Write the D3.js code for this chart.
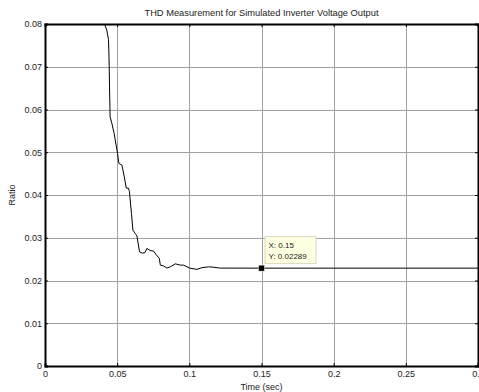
<!DOCTYPE html>
<html><head><meta charset="utf-8">
<script src="https://cdn.jsdelivr.net/npm/d3@7"></script>
<style>
html,body{margin:0;padding:0;background:#fff;overflow:hidden}
text{font-family:"Liberation Sans",Arial,sans-serif;}
</style></head>
<body>
<svg id="c" width="479" height="392"></svg>
<script>
const title = "THD Measurement for Simulated Inverter Voltage Output";
const xLabel = "Time (sec)";
const yLabel = "Ratio";
const xTicks = [0, 0.05, 0.1, 0.15, 0.2, 0.25, 0.3];
const yTicks = [0, 0.01, 0.02, 0.03, 0.04, 0.05, 0.06, 0.07, 0.08];
const timeValues = [0.0400,0.0412,0.0428,0.0440,0.0444,0.0447,0.0451,0.0463,0.0479,0.0502,0.0512,0.0533,0.0549,0.0563,0.0578,0.0585,0.0599,0.0609,0.0625,0.0637,0.0655,0.0674,0.0692,0.0706,0.0729,0.0752,0.0771,0.0792,0.0799,0.0822,0.0845,0.0868,0.0903,0.0938,0.0960,0.1002,0.1053,0.1088,0.1134,0.1169,0.1215,0.1262,0.1500,0.2000,0.2500,0.3000];
const thdValues = [0.0850,0.0800,0.0786,0.0763,0.0716,0.0653,0.0583,0.0568,0.0544,0.0498,0.0474,0.0470,0.0443,0.0416,0.0416,0.0408,0.0357,0.0318,0.0310,0.0304,0.0267,0.0264,0.0265,0.0275,0.0270,0.0269,0.0260,0.0252,0.0236,0.0234,0.0229,0.0232,0.0239,0.0236,0.0236,0.0229,0.0226,0.0230,0.0232,0.0231,0.0229,0.0229,0.02289,0.02289,0.02289,0.02289];
const markerX = 0.15, markerY = 0.02289;

const svg = d3.select("#c");
const L = 45, R = 478, T = 24, B = 366;
const x = d3.scaleLinear().domain([0, 0.3]).range([L, R]);
const y = d3.scaleLinear().domain([0, 0.08]).range([B, T]);

svg.append("rect").attr("x", L).attr("y", T).attr("width", R - L).attr("height", B - T).attr("fill", "#fff");

// grid
const grid = svg.append("g").attr("stroke", "#a0a0a0").attr("stroke-width", 1);
xTicks.slice(1, -1).forEach(t => grid.append("line").attr("x1", Math.round(x(t)) + 0.5).attr("x2", Math.round(x(t)) + 0.5).attr("y1", T).attr("y2", B));
yTicks.slice(1, -1).forEach(t => grid.append("line").attr("y1", Math.round(y(t)) + 0.5).attr("y2", Math.round(y(t)) + 0.5).attr("x1", L).attr("x2", R));

// axes with inward ticks
const fmt = d => d === 0 ? "0" : String(+d.toFixed(3));
const xAx = svg.append("g").attr("transform", `translate(0,${B})`)
  .call(d3.axisBottom(x).tickValues(xTicks).tickSize(-3).tickPadding(5).tickFormat(fmt));
const xAxTop = svg.append("g").attr("transform", `translate(0,${T})`)
  .call(d3.axisTop(x).tickValues(xTicks).tickSize(-3).tickFormat(""));
const yAx = svg.append("g").attr("transform", `translate(${L},0)`)
  .call(d3.axisLeft(y).tickValues(yTicks).tickSize(-3).tickPadding(3).tickFormat(fmt));
const yAxR = svg.append("g").attr("transform", `translate(${R},0)`)
  .call(d3.axisRight(y).tickValues(yTicks).tickSize(-3).tickFormat(""));
[xAx, xAxTop, yAx, yAxR].forEach(g => {
  g.select(".domain").attr("stroke", "#000").attr("stroke-width", 2);
  g.selectAll(".tick line").attr("stroke", "#000");
  g.selectAll("text").attr("font-size", 9).attr("fill", "#222").attr("font-family", "'Liberation Sans',Arial,sans-serif");
});

// clip
svg.append("clipPath").attr("id", "clip").append("rect").attr("x", L).attr("y", T).attr("width", R - L).attr("height", B - T);

const pts = timeValues.map((t, i) => [t, thdValues[i]]);
svg.append("path").datum(pts).attr("clip-path", "url(#clip)")
  .attr("fill", "none").attr("stroke", "#000").attr("stroke-width", 1)
  .attr("d", d3.line().x(d => x(d[0])).y(d => y(d[1])));

// data tip
const mx = x(markerX), my = y(markerY);
svg.append("rect").attr("x", mx - 3).attr("y", my - 3).attr("width", 6).attr("height", 6).attr("fill", "#000").attr("stroke", "#ffffe0").attr("stroke-width", 0.5);
const tip = svg.append("g");
tip.append("rect").attr("x", mx + 3.5).attr("y", my - 31.5).attr("width", 51).attr("height", 27)
  .attr("fill", "#ffffe1").attr("stroke", "#d8d8c0").attr("stroke-width", 1);
tip.append("text").attr("x", mx + 7).attr("y", my - 20).attr("font-size", 8).attr("fill", "#222").text("X: " + markerX);
tip.append("text").attr("x", mx + 7).attr("y", my - 9).attr("font-size", 8).attr("fill", "#222").text("Y: " + markerY);

// labels
svg.append("text").attr("x", (L + R) / 2).attr("y", 16).attr("text-anchor", "middle").attr("font-size", 9.3).attr("fill", "#222").text(title);
svg.append("text").attr("x", (L + R) / 2).attr("y", 390).attr("text-anchor", "middle").attr("font-size", 9).attr("fill", "#222").text(xLabel);
svg.append("text").attr("transform", `translate(15,${(T + B) / 2}) rotate(-90)`).attr("text-anchor", "middle").attr("font-size", 9).attr("fill", "#222").text(yLabel);
</script>
</body></html>
